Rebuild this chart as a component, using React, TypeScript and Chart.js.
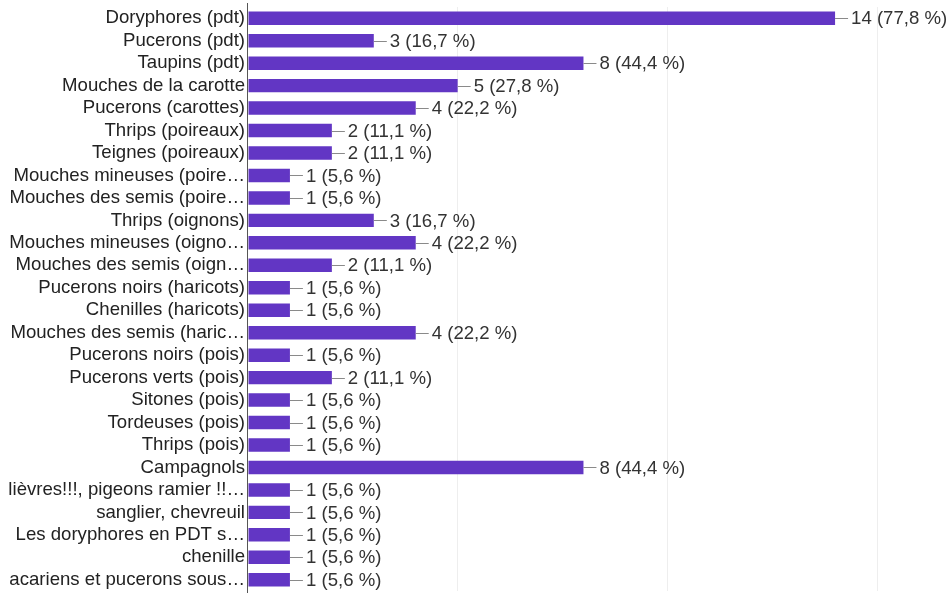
import React, { useEffect, useRef } from "react";
import { Chart, registerables } from "chart.js";

Chart.register(...registerables);

const categories = [
  "Doryphores (pdt)",
  "Pucerons (pdt)",
  "Taupins (pdt)",
  "Mouches de la carotte",
  "Pucerons (carottes)",
  "Thrips (poireaux)",
  "Teignes (poireaux)",
  "Mouches mineuses (poire…",
  "Mouches des semis (poire…",
  "Thrips (oignons)",
  "Mouches mineuses (oigno…",
  "Mouches des semis (oign…",
  "Pucerons noirs (haricots)",
  "Chenilles (haricots)",
  "Mouches des semis (haric…",
  "Pucerons noirs (pois)",
  "Pucerons verts (pois)",
  "Sitones (pois)",
  "Tordeuses (pois)",
  "Thrips (pois)",
  "Campagnols",
  "lièvres!!!, pigeons ramier !!…",
  "sanglier, chevreuil",
  "Les doryphores en PDT s…",
  "chenille",
  "acariens et pucerons sous…",
];

const counts = [14, 3, 8, 5, 4, 2, 2, 1, 1, 3, 4, 2, 1, 1, 4, 1, 2, 1, 1, 1, 8, 1, 1, 1, 1, 1];

const percentLabels = [
  "77,8 %", "16,7 %", "44,4 %", "27,8 %", "22,2 %", "11,1 %", "11,1 %", "5,6 %", "5,6 %",
  "16,7 %", "22,2 %", "11,1 %", "5,6 %", "5,6 %", "22,2 %", "5,6 %", "11,1 %", "5,6 %",
  "5,6 %", "5,6 %", "44,4 %", "5,6 %", "5,6 %", "5,6 %", "5,6 %", "5,6 %",
];

const xTickValues = [0, 5, 10, 15];

const FONT = "'Liberation Sans', Arial, Helvetica, sans-serif";
const FONT_SIZE = 18.6;

const valueLabelPlugin = {
  id: "valueLabels",
  afterDatasetsDraw(chart: any) {
    const ctx = chart.ctx;
    const meta = chart.getDatasetMeta(0);
    ctx.save();
    meta.data.forEach((bar: any, i: number) => {
      const x = bar.x;
      const y = bar.y;
      ctx.strokeStyle = "#8a8a8a";
      ctx.lineWidth = 1;
      ctx.beginPath();
      ctx.moveTo(x, Math.round(y) + 0.5);
      ctx.lineTo(x + 13, Math.round(y) + 0.5);
      ctx.stroke();
      ctx.fillStyle = "#333333";
      ctx.font = `${FONT_SIZE}px ${FONT}`;
      ctx.textAlign = "left";
      ctx.textBaseline = "middle";
      ctx.fillText(`${counts[i]} (${percentLabels[i]})`, x + 16, y + 1);
    });
    const left = chart.chartArea.left;
    ctx.strokeStyle = "#555555";
    ctx.lineWidth = 1;
    ctx.beginPath();
    ctx.moveTo(left - 0.5, 3);
    ctx.lineTo(left - 0.5, chart.height);
    ctx.stroke();
    ctx.restore();
  },
};

export default function App() {
  const canvasRef = useRef<HTMLCanvasElement | null>(null);

  useEffect(() => {
    document.body.style.margin = "0";
    const canvas = canvasRef.current;
    if (!canvas) return;
    const chart = new Chart(canvas, {
      type: "bar",
      data: {
        labels: categories,
        datasets: [
          {
            data: counts,
            backgroundColor: "#6236c4",
            borderWidth: 0,
            barPercentage: 0.6,
            categoryPercentage: 1,
          },
        ],
      },
      options: {
        indexAxis: "y",
        animation: false,
        responsive: true,
        maintainAspectRatio: false,
        layout: { padding: { top: 7, bottom: 2, right: 72, left: 0 } },
        plugins: {
          legend: { display: false },
          tooltip: { enabled: false },
        },
        scales: {
          x: {
            min: 0,
            max: 15,
            afterBuildTicks: (scale: any) => {
              scale.ticks = xTickValues.map((v) => ({ value: v }));
            },
            afterFit: (scale: any) => {
              scale.height = 0;
              scale.paddingLeft = 0;
              scale.paddingRight = 0;
              scale.paddingTop = 0;
              scale.paddingBottom = 0;
            },
            ticks: { display: false },
            grid: {
              drawTicks: false,
              color: (c: any) => (c.tick && c.tick.value === 0 ? "rgba(0,0,0,0)" : "#eeeeee"),
            },
            border: { display: false },
          },
          y: {
            afterFit: (scale: any) => {
              scale.width = 248;
              scale.paddingTop = 0;
              scale.paddingBottom = 0;
              scale.paddingLeft = 0;
              scale.paddingRight = 0;
            },
            ticks: {
              autoSkip: false,
              padding: 3,
              color: "#222222",
              font: { family: FONT, size: FONT_SIZE },
            },
            grid: { display: false, drawTicks: false },
            border: { display: false },
          },
        },
      },
      plugins: [valueLabelPlugin],
    });
    return () => chart.destroy();
  }, []);

  return (
    <div style={{ position: "fixed", left: 0, top: 0, width: 949, height: 593, background: "#fff" }}>
      <canvas ref={canvasRef} />
    </div>
  );
}
